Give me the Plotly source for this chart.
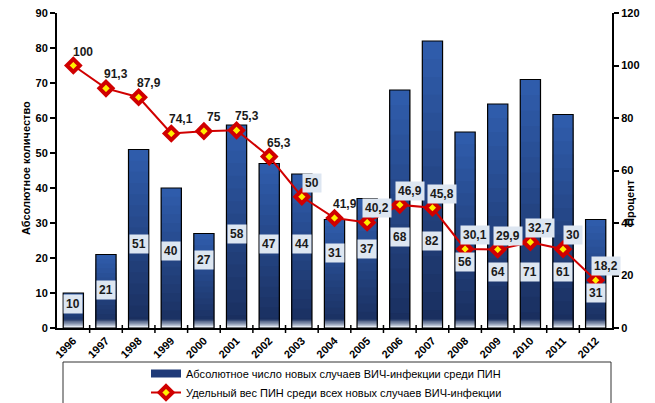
import plotly.graph_objects as go

# Годы наблюдения
years = [str(y) for y in range(1996, 2013)]
# Абсолютное число новых случаев ВИЧ-инфекции среди ПИН
new_cases = [10, 21, 51, 40, 27, 58, 47, 44, 31, 37, 68, 82, 56, 64, 71, 61, 31]
# Удельный вес ПИН среди всех новых случаев ВИЧ-инфекции, %
share_pct = [100, 91.3, 87.9, 74.1, 75, 75.3, 65.3, 50, 41.9, 40.2, 46.9, 45.8,
             30.1, 29.9, 32.7, 30, 18.2]
# Высота подписей столбцов (в единицах левой оси)
count_label_y = [7, 11, 24, 22, 19.5, 27, 24, 24, 21.5, 22.5, 26, 25, 19, 16, 16, 16, 10]

bar_name = "Абсолютное число новых случаев ВИЧ-инфекции среди ПИН"
line_name = "Удельный вес ПИН среди всех новых случаев ВИЧ-инфекции"

FONT = "Liberation Sans, Arial, sans-serif"
BAR_W = 0.62
xs = list(range(len(years)))


def mix(c1, c2, t):
    a = [int(c1[i:i + 2], 16) for i in (1, 3, 5)]
    b = [int(c2[i:i + 2], 16) for i in (1, 3, 5)]
    return "#" + "".join(f"{round(p + (q - p) * t):02x}" for p, q in zip(a, b))


TOP, BOTTOM = "#2f5cab", "#1a2f5f"
RED = "#d00000"

fig = go.Figure()

# Основной столбец (светлый верх градиента)
fig.add_trace(go.Bar(
    x=xs, y=new_cases, width=BAR_W,
    marker=dict(color=TOP, line=dict(width=0)),
    showlegend=False, hoverinfo="skip",
))

# Вертикальный градиент: всё более тёмные слои к основанию столбца
steps = 16
for k in range(1, steps):
    frac = 1 - k / steps
    fig.add_trace(go.Bar(
        x=xs, y=[v * frac for v in new_cases], width=BAR_W,
        marker=dict(color=mix(TOP, BOTTOM, k / (steps - 1)), line=dict(width=0)),
        showlegend=False, hoverinfo="skip",
    ))

# Осветление у самого основания
fade = 2.8
for k in range(1, 7):
    h = fade * (1 - k / 7)
    fig.add_trace(go.Bar(
        x=xs, y=[min(v, h) for v in new_cases], width=BAR_W,
        marker=dict(color=mix(BOTTOM, "#e2e8f2", k / 6), line=dict(width=0)),
        showlegend=False, hoverinfo="skip",
    ))

# Контур поверх градиента
fig.add_trace(go.Bar(
    x=xs, y=new_cases, width=BAR_W,
    marker=dict(color="rgba(0,0,0,0)", line=dict(color="black", width=1.2)),
    showlegend=False, hoverinfo="skip",
))

# Элемент легенды для столбцов
fig.add_trace(go.Scatter(
    x=[None], y=[None], name=bar_name, mode="lines",
    line=dict(color="#1f3a78", width=8),
))

# Линия удельного веса на правой оси
fig.add_trace(go.Scatter(
    x=xs, y=share_pct, name=line_name, yaxis="y2",
    mode="lines+markers",
    line=dict(color=RED, width=2),
    marker=dict(symbol="diamond", size=10, color="#ffee00",
                line=dict(color=RED, width=4)),
    hoverinfo="skip",
))

annotations = []

# Подписи значений столбцов
for i, v, ly in zip(xs, new_cases, count_label_y):
    annotations.append(dict(
        x=i, y=ly, xref="x", yref="y", text=str(v), showarrow=False,
        font=dict(family=FONT, size=12, color="#1a1a1a", weight="bold"),
        bgcolor="#dde6f1", borderpad=2,
    ))

# Подписи значений линии
for i, v, c in zip(xs, share_pct, new_cases):
    txt = (f"{v:g}").replace(".", ",")
    over_bar = v * 90 / 120 + 3 < c
    annotations.append(dict(
        x=i, y=v, xref="x", yref="y2", text=txt, showarrow=False,
        xshift=10, yshift=14,
        font=dict(family=FONT, size=12, color="#1a1a1a", weight="bold"),
        bgcolor="#dde6f1" if over_bar else "rgba(0,0,0,0)", borderpad=2,
    ))

L, R, T, B = 57, 43, 13, 75
W, H = 655, 403
pw, ph = W - L - R, H - T - B

# Названия осей (позиции заданы в пикселях страницы)
for px, py, txt in [(18, 168, "Абсолютное количество"), (638, 203, "Процент")]:
    annotations.append(dict(
        x=(px - L) / pw, y=(H - B - py) / ph, xref="paper", yref="paper",
        text=f"<b>{txt}</b>", showarrow=False, textangle=-90,
        font=dict(family=FONT, size=11, color="black"),
    ))

axis_common = dict(
    ticks="outside", ticklen=5, tickwidth=1.5, tickcolor="black",
    showline=True, linecolor="black", linewidth=2, automargin=False,
)

fig.update_layout(
    width=W, height=H,
    margin=dict(l=L, r=R, t=T, b=B, autoexpand=False),
    paper_bgcolor="white", plot_bgcolor="white",
    barmode="overlay",
    font=dict(family=FONT, size=11, color="black"),
    xaxis=dict(
        tickmode="array", tickvals=xs, ticktext=years,
        tickangle=-45, range=[-0.5, 16.5], showgrid=False, zeroline=False,
        tickfont=dict(family=FONT, size=11, color="black", weight="bold"),
        showline=True, linecolor="black", linewidth=2, automargin=False,
        ticks="", ticklen=0,
    ),
    yaxis=dict(
        range=[0, 90], dtick=10, showgrid=False, zeroline=False,
        tickfont=dict(family=FONT, size=11, color="black", weight="bold"),
        **axis_common,
    ),
    yaxis2=dict(
        range=[0, 120], dtick=20, overlaying="y", side="right",
        showgrid=False, zeroline=False,
        tickfont=dict(family=FONT, size=11, color="black", weight="bold"),
        **axis_common,
    ),
    legend=dict(
        orientation="v", x=(146 - L) / pw, xanchor="left",
        yref="container", y=(H - 359) / H, yanchor="top",
        font=dict(family=FONT, size=11, color="black"),
        bgcolor="rgba(0,0,0,0)", itemwidth=30,
    ),
    annotations=annotations,
    shapes=[dict(
        type="rect", xref="paper", yref="paper",
        x0=(63 - L) / pw, x1=(611 - L) / pw,
        y0=(H - B - 410) / ph, y1=(H - B - 362) / ph,
        line=dict(color="#333333", width=1), fillcolor="rgba(0,0,0,0)",
        layer="below",
    )] + [
        # Засечки оси X на границах категорий
        dict(type="line", xref="x", yref="paper", x0=i - 0.5, x1=i - 0.5,
             y0=-5 / ph, y1=3 / ph, line=dict(color="black", width=1.5))
        for i in range(1, len(years))
    ],
    showlegend=True,
)

fig.write_html("out.html")
